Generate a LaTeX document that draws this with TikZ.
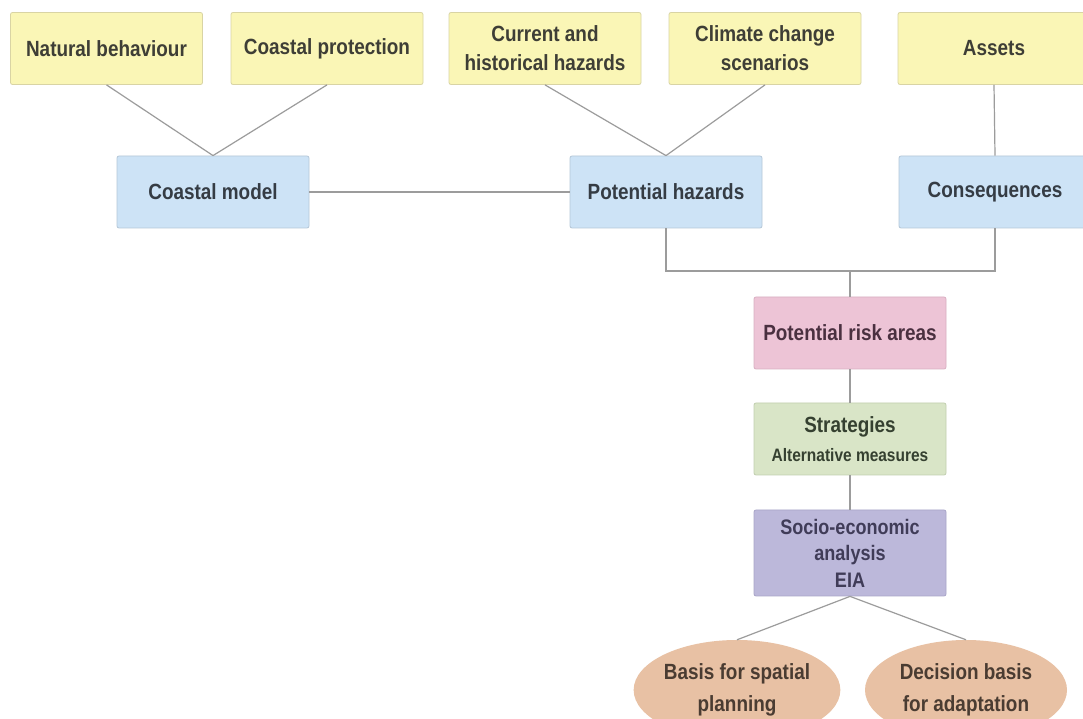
\documentclass[tikz,border=0pt]{standalone}
\usepackage{fontspec}
\setmainfont{Liberation Sans}[FakeStretch=0.86]
\usetikzlibrary{shapes.geometric}
\definecolor{ylw}{HTML}{FAF6B6}
\definecolor{ylwb}{HTML}{D9D4A4}
\definecolor{blu}{HTML}{CDE3F6}
\definecolor{blub}{HTML}{B5C7D8}
\definecolor{pnk}{HTML}{EDC4D6}
\definecolor{pnkb}{HTML}{D9B0C2}
\definecolor{grn}{HTML}{D9E5C7}
\definecolor{grnb}{HTML}{C2CFB0}
\definecolor{prp}{HTML}{BCB8DA}
\definecolor{prpb}{HTML}{A9A5C8}
\definecolor{pch}{HTML}{E8C1A4}
\definecolor{txt}{HTML}{3E3E36}
\definecolor{txtb}{HTML}{353C44}
\definecolor{txtp}{HTML}{4A3040}
\definecolor{txtg}{HTML}{354030}
\definecolor{txtv}{HTML}{403C58}
\definecolor{txto}{HTML}{4A3C32}
\definecolor{lin}{HTML}{9C9C9C}
\begin{document}
\begin{tikzpicture}[x=1pt,y=1pt,
  box/.style={rectangle, rounded corners=2pt, line width=0.8pt, minimum width=192pt, minimum height=72pt,
    align=center, text=txt, inner sep=2pt, font=\fontsize{22}{29}\selectfont\bfseries},
  ybox/.style={box, fill=ylw, draw=ylwb},
  bbox/.style={box, fill=blu, draw=blub, text=txtb},
  pbox/.style={box, fill=pnk, draw=pnkb, text=txtp},
  gbox/.style={box, fill=grn, draw=grnb, text=txtg},
  vbox/.style={box, fill=prp, draw=prpb, minimum height=86pt, font=\fontsize{21}{26.5}\selectfont\bfseries, text=txtv},
  oval/.style={ellipse, fill=pch, draw=none, minimum width=202pt, minimum height=100pt, inner sep=0pt,
    align=center, text=txto, font=\fontsize{22}{32}\selectfont\bfseries},
  conn/.style={draw=lin, line width=1.2pt}]
\clip (0,0) rectangle (1083,719);
\fill[white] (0,0) rectangle (1083,719);
% top row
\node[ybox] (nb) at (106.5,670.5) {Natural behaviour};
\node[ybox] (cp) at (327,670.5) {Coastal protection};
\node[ybox] (ch) at (545,670.5) {Current and\\historical hazards};
\node[ybox] (cc) at (765,670.5) {Climate change\\scenarios};
\node[ybox] (as) at (994,670.5) {Assets};
% second row
\node[bbox] (cm) at (213,527) {Coastal model};
\node[bbox] (ph) at (666,527) {Potential hazards};
\node[bbox] (co) at (995,527) {Consequences};
% column
\node[pbox] (ra) at (850,386) {Potential risk areas};
\node[gbox] (st) at (850,280) {Strategies\\{\fontsize{18}{22}\selectfont Alternative measures}};
\node[vbox] (se) at (850,166) {Socio-economic\\analysis\\EIA};
\node[oval] (bs) at (737,29) {Basis for spatial\\planning};
\node[oval] (db) at (966,29) {Decision basis\\for adaptation};
\coordinate (j) at (850,448);
% connectors
\draw[conn] (nb.south) -- (cm.north);
\draw[conn] (cp.south) -- (cm.north);
\draw[conn] (ch.south) -- (ph.north);
\draw[conn] (cc.south) -- (ph.north);
\draw[conn] (as.south) -- (co.north);
\draw[conn] (cm.east) -- (ph.west);
\draw[conn] (ph.south) |- (j) -| (co.south);
\draw[conn] (j) -- (ra.north);
\draw[conn] (ra.south) -- (st.north);
\draw[conn] (st.south) -- (se.north);
\draw[conn] (se.south) -- (bs.north);
\draw[conn] (se.south) -- (db.north);
\end{tikzpicture}
\end{document}
